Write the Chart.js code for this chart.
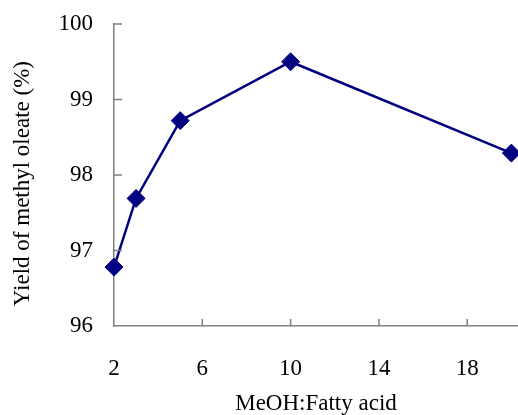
<!DOCTYPE html>
<html>
<head>
<meta charset="utf-8">
<title>Yield of methyl oleate</title>
<script src="https://cdn.jsdelivr.net/npm/chart.js@4"></script>
<style>
  body { margin: 0; background: #fff; }
</style>
</head>
<body>
<canvas id="myChart" width="518" height="415"></canvas>
<script>
// MeOH : fatty acid ratio and yield values
const ratios = [2, 3, 5, 10, 20];
const yields = [96.78, 97.69, 98.72, 99.5, 98.29];
const xTicks = [2, 6, 10, 14, 18];
const yTicks = [96, 97, 98, 99, 100];

const axisColor = '#808080';
const lineColor = '#000080';
const serif = "'Liberation Serif', 'Times New Roman', serif";

// small tick marks drawn inside the plot area like Excel does
const insideTicks = {
  id: 'insideTicks',
  afterDraw(chart) {
    const ctx = chart.ctx;
    const x = chart.scales.x;
    const y = chart.scales.y;
    ctx.save();
    ctx.strokeStyle = axisColor;
    ctx.lineWidth = 1.5;
    ctx.beginPath();
    xTicks.slice(1).forEach(v => {
      const px = x.getPixelForValue(v);
      ctx.moveTo(px, y.bottom);
      ctx.lineTo(px, y.bottom - 7);
    });
    yTicks.slice(1).forEach(v => {
      const py = y.getPixelForValue(v);
      ctx.moveTo(x.left, py);
      ctx.lineTo(x.left + 8, py);
    });
    ctx.stroke();
    ctx.restore();
  }
};

const ctx = document.getElementById('myChart').getContext('2d');
const myChart = new Chart(ctx, {
  type: 'line',
  data: {
    labels: ratios,
    datasets: [{
      data: ratios.map((r, i) => ({ x: r, y: yields[i] })),
      borderColor: lineColor,
      backgroundColor: lineColor,
      borderWidth: 2.5,
      pointStyle: 'rectRot',
      pointRadius: 9,
      pointBackgroundColor: lineColor,
      pointBorderColor: lineColor,
      pointBorderWidth: 1,
      tension: 0,
      clip: false
    }]
  },
  options: {
    responsive: false,
    animation: false,
    layout: { autoPadding: false, padding: { top: 24, right: 0, bottom: 0, left: 0 } },
    plugins: {
      legend: { display: false },
      tooltip: { enabled: false }
    },
    scales: {
      x: {
        type: 'linear',
        min: 2,
        max: 20.3,
        afterBuildTicks: axis => { axis.ticks = xTicks.map(v => ({ value: v })); },
        afterFit: axis => {
          axis.height = 89;
          axis.paddingLeft = 0;
          axis.paddingRight = 0;
        },
        grid: { display: false, drawTicks: false },
        border: { display: true, color: axisColor, width: 1.5 },
        ticks: {
          color: '#000',
          padding: 29,
          maxRotation: 0,
          font: { family: serif, size: 23 }
        },
        title: {
          display: true,
          text: 'MeOH:Fatty acid',
          color: '#000',
          padding: { top: 3, bottom: -3 },
          font: { family: serif, size: 23 }
        }
      },
      y: {
        min: 96,
        max: 100,
        afterBuildTicks: axis => { axis.ticks = yTicks.map(v => ({ value: v })); },
        afterFit: axis => {
          axis.width = 114;
          axis.paddingTop = 0;
          axis.paddingBottom = 0;
        },
        grid: { display: false, drawTicks: false },
        border: { display: true, color: axisColor, width: 1.5 },
        ticks: {
          color: '#000',
          padding: 21,
          font: { family: serif, size: 23 }
        },
        title: {
          display: true,
          text: 'Yield of methyl oleate (%)   ',
          color: '#000',
          padding: { top: 9, bottom: 0 },
          font: { family: serif, size: 23 }
        }
      }
    }
  },
  plugins: [insideTicks]
});
</script>
</body>
</html>
